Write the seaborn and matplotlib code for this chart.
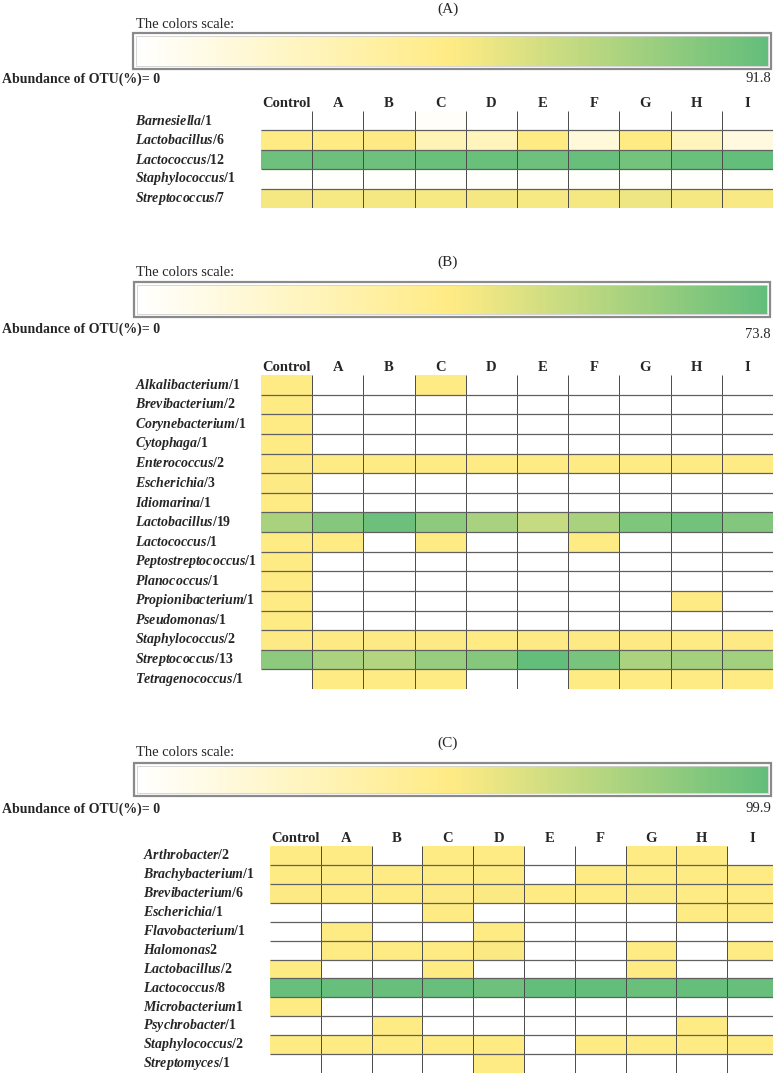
import numpy as np
import pandas as pd
import seaborn as sns
import matplotlib.pyplot as plt
import matplotlib.colors as mcolors
from matplotlib.cm import ScalarMappable
from matplotlib.patches import Rectangle

groups = ['Control', 'A', 'B', 'C', 'D', 'E', 'F', 'G', 'H', 'I']

# ---- panel A : abundance of OTU (%) per group
genera_a = ['Barnesiella', 'Lactobacillus', 'Lactococcus', 'Staphylococcus', 'Streptococcus']
otus_a = ['/1', '/6', '/12', '/1', '/7']
barnesiella_a = [0, 0, 0, 0.2, 0, 0, 0, 0, 0, 0]
lactobacillus_a = [4.5, 4.2, 4.8, 2.4, 2.2, 4.6, 1.2, 4.0, 2.2, 1.05]
lactococcus_a = [85.4, 86.7, 85.1, 88.3, 88.2, 86.3, 88.7, 81.9, 87.7, 91.8]
staphylococcus_a = [0.1, 0.1, 0.1, 0.1, 0.1, 0.1, 0.1, 0.1, 0.1, 0.05]
streptococcus_a = [10, 9, 10, 9, 9.5, 9, 10, 14, 10, 7.1]
max_a = 91.8

# ---- panel B
genera_b = ['Alkalibacterium', 'Brevibacterium', 'Corynebacterium', 'Cytophaga',
            'Enterococcus', 'Escherichia', 'Idiomarina', 'Lactobacillus', 'Lactococcus',
            'Peptostreptococcus', 'Planococcus', 'Propionibacterium', 'Pseudomonas',
            'Staphylococcus', 'Streptococcus', 'Tetragenococcus']
otus_b = ['/1', '/2', '/1', '/1', '/2', '/3', '/1', '/19', '/1', '/1', '/1', '/1', '/1',
          '/2', '/13', '/1']
alkalibacterium_b = [0.8, 0, 0, 0.6, 0, 0, 0, 0, 0, 0]
brevibacterium_b = [0.9, 0, 0, 0, 0, 0, 0, 0, 0, 0]
corynebacterium_b = [0.6, 0, 0, 0, 0, 0, 0, 0, 0, 0]
cytophaga_b = [0.7, 0, 0, 0, 0, 0, 0, 0, 0, 0]
enterococcus_b = [1.1, 0.9, 1.0, 0.8, 0.7, 0.9, 0.8, 0.9, 0.7, 1.0]
escherichia_b = [1.2, 0, 0, 0, 0, 0, 0, 0, 0, 0]
idiomarina_b = [0.6, 0, 0, 0, 0, 0, 0, 0, 0, 0]
lactobacillus_b = [40.8, 57.7, 69.4, 53.3, 41.6, 27.6, 40.8, 60.6, 66.5, 59.1]
lactococcus_b = [0.9, 0.8, 0, 0.7, 0, 0, 0.6, 0, 0, 0]
peptostreptococcus_b = [0.6, 0, 0, 0, 0, 0, 0, 0, 0, 0]
planococcus_b = [0.7, 0, 0, 0, 0, 0, 0, 0, 0, 0]
propionibacterium_b = [0.6, 0, 0, 0, 0, 0, 0, 0, 0.7, 0]
pseudomonas_b = [0.8, 0, 0, 0, 0, 0, 0, 0, 0, 0]
staphylococcus_b = [1.4, 1.2, 1.1, 1.3, 1.0, 1.2, 1.1, 1.2, 1.0, 1.3]
streptococcus_b = [54.0, 40.1, 36.5, 49.6, 57.7, 73.8, 64.0, 39.5, 42.4, 44.0]
tetragenococcus_b = [0, 0.6, 0.7, 0.6, 0, 0, 0.8, 0.7, 0.6, 0.8]
max_b = 73.8

# ---- panel C
genera_c = ['Arthrobacter', 'Brachybacterium', 'Brevibacterium', 'Escherichia',
            'Flavobacterium', 'Halomonas', 'Lactobacillus', 'Lactococcus',
            'Microbacterium', 'Psychrobacter', 'Staphylococcus', 'Streptomyces']
otus_c = ['/2', '/1', '/6', '/1', '/1', '2', '/2', '/8', '1', '/1', '/2', '/1']
arthrobacter_c = [0.4, 0.3, 0, 0.3, 0.3, 0, 0, 0.4, 0.3, 0]
brachybacterium_c = [0.5, 0.4, 0.4, 0.5, 0.5, 0, 0.4, 0.5, 0.4, 0.5]
brevibacterium_c = [0.9, 0.8, 0.7, 0.9, 3.0, 0.1, 0.6, 2.0, 0.7, 0.8]
escherichia_c = [0, 0, 0, 0.3, 0, 0, 0, 0, 0.3, 0.4]
flavobacterium_c = [0, 0.3, 0, 0, 0.3, 0, 0, 0, 0, 0]
halomonas_c = [0, 0.4, 0.5, 0.4, 2.5, 0, 0, 0.6, 0, 0.4]
lactobacillus_c = [0.5, 0, 0, 0.4, 0, 0, 0, 0.5, 0, 0]
lactococcus_c = [97.0, 97.4, 97.2, 96.8, 92.3, 99.9, 98.6, 95.3, 97.6, 97.5]
microbacterium_c = [0.3, 0, 0, 0, 0, 0, 0, 0, 0, 0]
psychrobacter_c = [0, 0, 0.3, 0, 0, 0, 0, 0, 0.3, 0]
staphylococcus_c = [0.4, 0.4, 0.3, 0.4, 0.5, 0, 0.4, 0.4, 0.4, 0.4]
streptomyces_c = [0, 0, 0, 0, 0.4, 0, 0, 0, 0, 0]
max_c = 99.9

rows_a = [barnesiella_a, lactobacillus_a, lactococcus_a, staphylococcus_a, streptococcus_a]
rows_b = [alkalibacterium_b, brevibacterium_b, corynebacterium_b, cytophaga_b, enterococcus_b,
          escherichia_b, idiomarina_b, lactobacillus_b, lactococcus_b, peptostreptococcus_b,
          planococcus_b, propionibacterium_b, pseudomonas_b, staphylococcus_b,
          streptococcus_b, tetragenococcus_b]
rows_c = [arthrobacter_c, brachybacterium_c, brevibacterium_c, escherichia_c, flavobacterium_c,
          halomonas_c, lactobacillus_c, lactococcus_c, microbacterium_c, psychrobacter_c,
          staphylococcus_c, streptomyces_c]

sns.set_theme(style='white')
plt.rcParams['font.family'] = ['Liberation Serif', 'DejaVu Serif']
plt.rcParams['mathtext.fontset'] = 'custom'
plt.rcParams['mathtext.it'] = 'Liberation Serif:italic:bold'
plt.rcParams['mathtext.rm'] = 'Liberation Serif:bold'

# excel-like 3 colour scale
scale = mcolors.LinearSegmentedColormap.from_list(
    'otu', [(0, '#FFFFFF'), (0.5, '#FFEB84'), (1, '#63BE7B')])

W, H = 773, 1073
fig = plt.figure(figsize=(W / 100, H / 100), dpi=100)


def box(x0, y0, x1, y1):
    return [x0 / W, 1 - y1 / H, (x1 - x0) / W, (y1 - y0) / H]


def draw_panel(tag, genera, otus, rows, vmax, mid, lay):
    # title and colour scale box
    fig.text(448 / W, 1 - lay['title'] / H, tag, ha='center', va='center', fontsize=11)
    fig.text(136 / W, 1 - lay['scale_lbl'] / H, 'The colors scale:', ha='left',
             va='center', fontsize=10.5)
    fx0, fy0, fx1, fy1 = lay['frame']
    fig.patches.append(Rectangle((fx0 / W, 1 - fy1 / H), (fx1 - fx0) / W, (fy1 - fy0) / H,
                                 transform=fig.transFigure, fill=False,
                                 edgecolor='#8a8a8a', lw=1.6))
    cax = fig.add_axes(box(fx0 + 3, fy0 + 3, fx1 - 3, fy1 - 3))
    cb = fig.colorbar(ScalarMappable(norm=mcolors.Normalize(0, 1), cmap=scale),
                      cax=cax, orientation='horizontal')
    cb.set_ticks([])
    cb.outline.set_edgecolor('#d0d0d0')
    cb.outline.set_linewidth(0.6)
    fig.text(2 / W, 1 - lay['abund'] / H, 'Abundance of OTU(%)= 0', ha='left',
             va='center', fontsize=10, fontweight='bold')
    fig.text(771 / W, 1 - lay['max'] / H, f'{vmax}', ha='right', va='center', fontsize=10.5)

    # heat table
    labels = [r'$\mathit{' + g + '}$' + o for g, o in zip(genera, otus)]
    df = pd.DataFrame(rows, index=labels, columns=groups)
    ax = fig.add_axes(box(*lay['heat']))
    norm = mcolors.TwoSlopeNorm(vmin=0, vcenter=mid, vmax=vmax)
    sns.heatmap(df, ax=ax, cmap=scale, norm=norm, cbar=False, linewidths=0)
    n = len(df)
    ax.vlines(np.arange(1, len(groups)), 0, n, colors='#4a4a4a', lw=0.7)
    ax.hlines(np.arange(1, n), 0, len(groups), colors='#606060', lw=0.9)
    ax.xaxis.tick_top()
    ax.set_xticklabels(groups, rotation=0, fontsize=10.5, fontweight='bold')
    ax.tick_params(axis='x', length=0, pad=1)
    pad = (lay['heat'][0] - lay['lbl_x']) * 72 / 100
    ax.set_yticklabels(labels, rotation=0, ha='left', fontsize=10, fontweight='bold')
    ax.tick_params(axis='y', length=0, pad=pad)
    ax.set_xlabel('')
    ax.set_ylabel('')


draw_panel('(A)', genera_a, otus_a, rows_a, max_a, 4,
           dict(title=9, scale_lbl=24, frame=(133, 33, 771, 69), abund=79, max=79,
                heat=(261, 111, 773, 208), lbl_x=135))
draw_panel('(B)', genera_b, otus_b, rows_b, max_b, 0.5,
           dict(title=262, scale_lbl=272, frame=(134, 282, 770, 317), abund=329, max=335,
                heat=(261, 375, 773, 689), lbl_x=135))
draw_panel('(C)', genera_c, otus_c, rows_c, max_c, 0.1,
           dict(title=743, scale_lbl=752, frame=(134, 763, 771, 796), abund=809, max=809,
                heat=(270, 846, 778, 1073), lbl_x=143))

fig.savefig('out.png', dpi=100)
